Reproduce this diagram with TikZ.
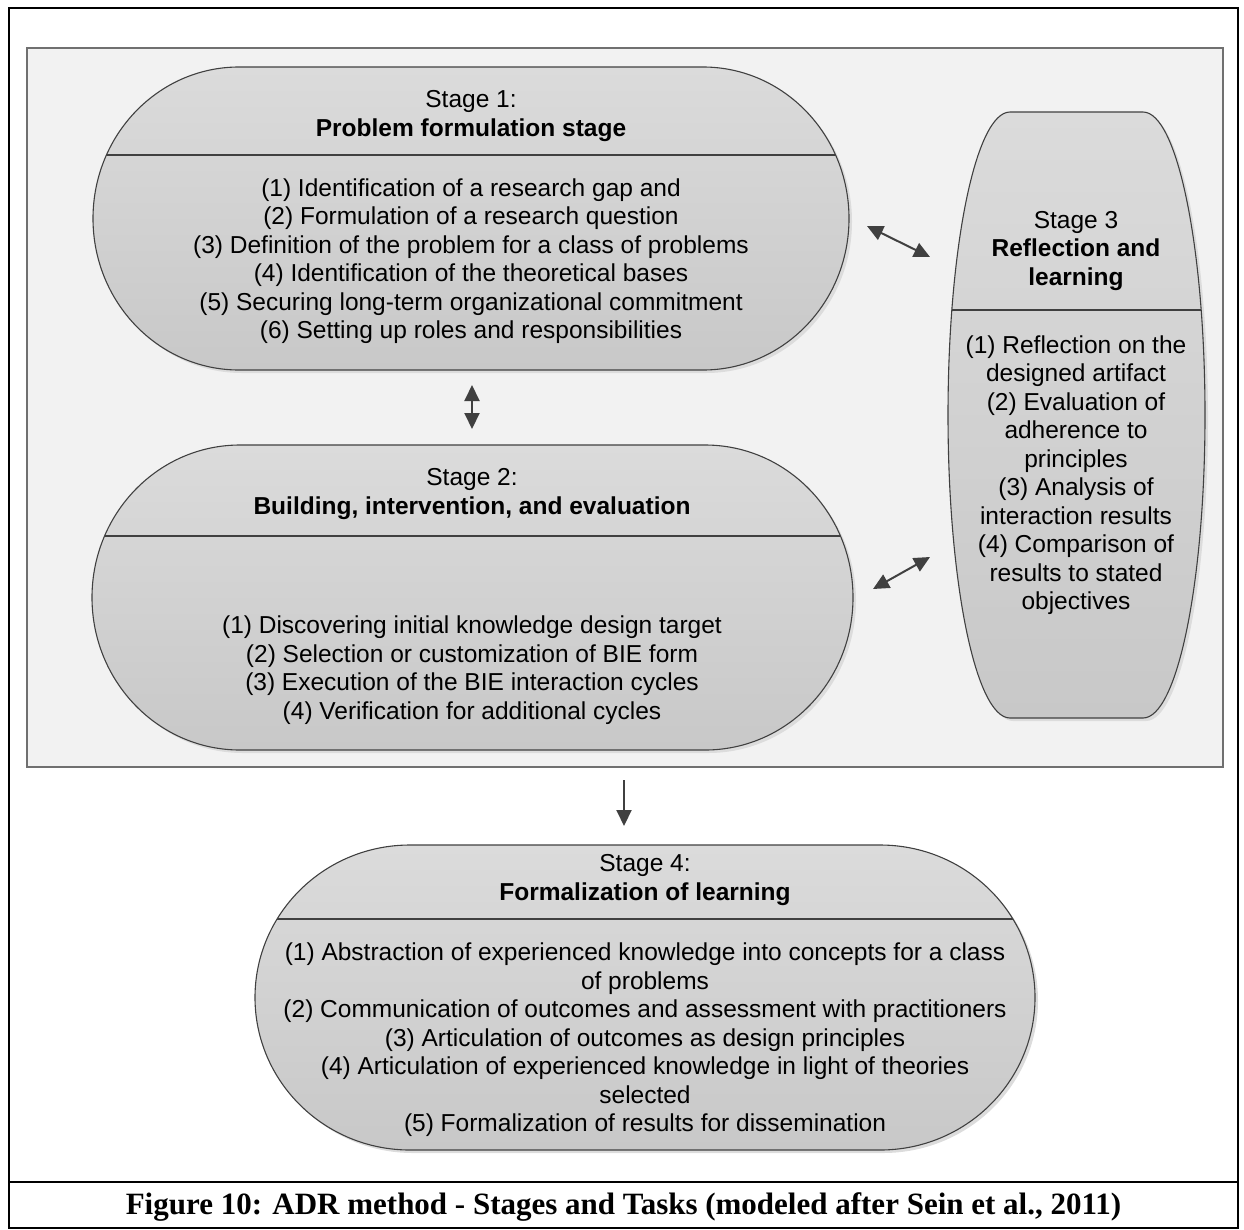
\documentclass[tikz,border=0pt]{standalone}
\usepackage{fontspec}
\setmainfont{Liberation Sans}
\newfontfamily\capfont{Liberation Serif}
\usetikzlibrary{arrows.meta}

\definecolor{panelfill}{HTML}{F2F2F2}
\definecolor{panelline}{HTML}{707070}
\definecolor{shapetop}{HTML}{DBDBDB}
\definecolor{shapebot}{HTML}{C8C8C8}
\definecolor{inkline}{HTML}{404040}
\definecolor{shadowc}{HTML}{DCDCDC}

% Capsule with half-elliptic ends and a header rule:
% left x, top y, right x, bottom y, end radius, rule y
% (y values measured downward from the top edge of the page)
\newcommand\stageshape[6]{%
  \begin{scope}[shift={(3,-3)}]
    \fill[shadowc] (#1+#5,-#2) -- (#3-#5,-#2)
      arc[start angle=90,end angle=-90,x radius=#5,y radius={(#4-#2)/2}]
      -- (#1+#5,-#4)
      arc[start angle=270,end angle=90,x radius=#5,y radius={(#4-#2)/2}] -- cycle;
  \end{scope}
  \path[stagebody] (#1+#5,-#2) -- (#3-#5,-#2)
    arc[start angle=90,end angle=-90,x radius=#5,y radius={(#4-#2)/2}]
    -- (#1+#5,-#4)
    arc[start angle=270,end angle=90,x radius=#5,y radius={(#4-#2)/2}] -- cycle;
  \begin{scope}
    \clip (#1+#5,-#2) -- (#3-#5,-#2)
      arc[start angle=90,end angle=-90,x radius=#5,y radius={(#4-#2)/2}]
      -- (#1+#5,-#4)
      arc[start angle=270,end angle=90,x radius=#5,y radius={(#4-#2)/2}] -- cycle;
    \draw[divider] (#1,-#6) -- (#3,-#6);
  \end{scope}
}

\tikzset{
  stagebody/.style={top color=shapetop, bottom color=shapebot, draw=inkline, line width=1.1pt},
  divider/.style={draw=inkline, line width=2.6pt},
  txt/.style={align=center, inner sep=0pt, font=\fontsize{24.5}{28.5}\selectfont},
  link/.style={draw=inkline, line width=2pt,
    {Triangle[length=16pt,width=15pt]}-{Triangle[length=16pt,width=15pt]}},
  onelink/.style={draw=inkline, line width=2pt, -{Triangle[length=16pt,width=15pt]}},
}

\begin{document}
\begin{tikzpicture}[x=1pt,y=1pt]
\useasboundingbox (0,0) rectangle (1244,-1229);

% outer frame with caption row
\draw[line width=2.4pt] (9,-8) rectangle (1238,-1228);
\draw[line width=2.4pt] (9,-1182) -- (1238,-1182);

% shaded panel holding stages 1-3
\draw[fill=panelfill, draw=panelline, line width=1.2pt] (27,-48) rectangle (1223,-767);

% Stage 1
\stageshape{93}{67}{849}{370}{146}{155}
\node[txt] (s1head) at (471,-116) {Stage 1:\\\textbf{Problem formulation stage}};
\node[txt] (s1body) at (471,-261) {(1) Identification of a research gap and\\
(2) Formulation of a research question\\
(3) Definition of the problem for a class of problems\\
(4) Identification of the theoretical bases\\
(5) Securing long-term organizational commitment\\
(6) Setting up roles and responsibilities};

% Stage 2
\stageshape{92}{445}{853}{750}{148}{536}
\node[txt] (s2head) at (472,-494) {Stage 2:\\\textbf{Building, intervention, and evaluation}};
\node[txt] (s2body) at (472,-670) {(1) Discovering initial knowledge design target\\
(2) Selection or customization of BIE form\\
(3) Execution of the BIE interaction cycles\\
(4) Verification for additional cycles};

% Stage 3
\stageshape{948}{112}{1205}{718}{62}{310}
\node[txt] (s3head) at (1076,-251) {Stage 3\\\textbf{Reflection and}\\\textbf{learning}};
\node[txt] (s3body) at (1076,-475) {(1) Reflection on the\\
designed artifact\\
(2) Evaluation of\\
adherence to\\
principles\\
(3) Analysis of\\
interaction results\\
(4) Comparison of\\
results to stated\\
objectives};

% Stage 4
\stageshape{255}{845}{1035}{1150}{155}{919}
\node[txt] (s4head) at (645,-880) {Stage 4:\\\textbf{Formalization of learning}};
\node[txt] (s4body) at (645,-1040) {(1) Abstraction of experienced knowledge into concepts for a class\\
of problems\\
(2) Communication of outcomes and assessment with practitioners\\
(3) Articulation of outcomes as design principles\\
(4) Articulation of experienced knowledge in light of theories\\
selected\\
(5) Formalization of results for dissemination};

% connectors between stages
\coordinate (a1s) at (867,-226);
\coordinate (a1e) at (930,-257);
\coordinate (a2s) at (472,-385);
\coordinate (a2e) at (472,-429);
\coordinate (a3s) at (873,-589);
\coordinate (a3e) at (930,-557);
\coordinate (a4s) at (624,-780);
\coordinate (a4e) at (624,-826);
\draw[link] (a1s) -- (a1e);
\draw[link] (a2s) -- (a2e);
\draw[link] (a3s) -- (a3e);
\draw[onelink] (a4s) -- (a4e);

% caption
\node[inner sep=0pt, font=\capfont\bfseries\fontsize{31}{35}\selectfont] (caption) at (623.5,-1207)
  {Figure 10: ADR method - Stages and Tasks (modeled after Sein et al., 2011)};
\end{tikzpicture}
\end{document}
